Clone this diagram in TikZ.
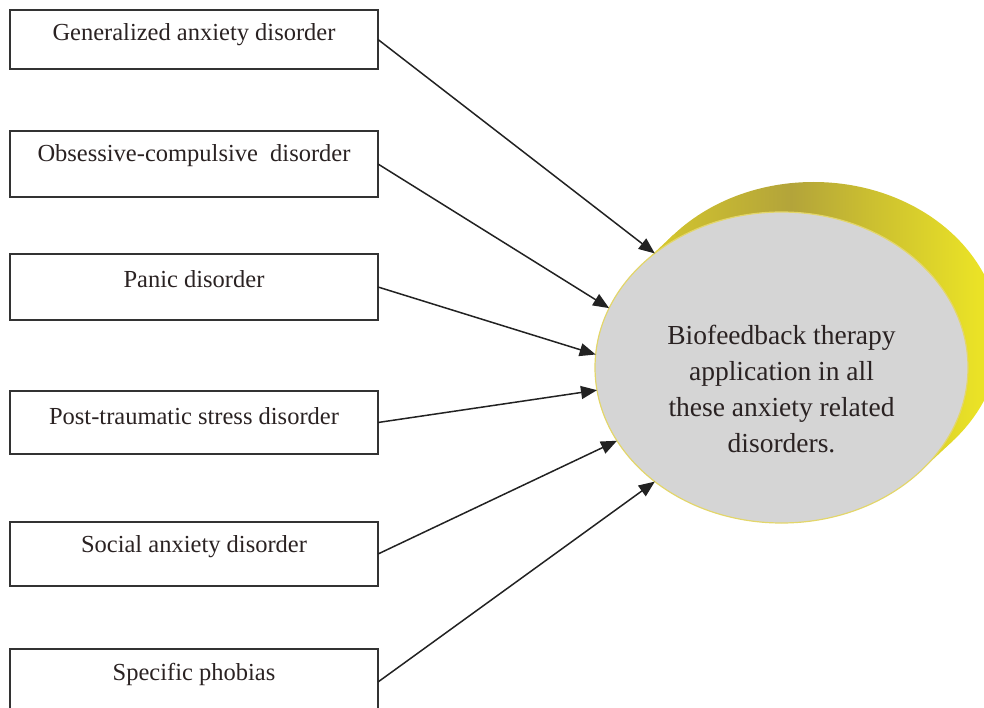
\documentclass[tikz,border=0pt]{standalone}
\usepackage{fontspec}
\setmainfont{Liberation Serif}
\usetikzlibrary{arrows.meta,shapes.geometric}
\definecolor{ellgray}{HTML}{D5D5D5}
\definecolor{ellrim}{HTML}{E3D66A}
\definecolor{boxline}{HTML}{333333}
\definecolor{arrline}{HTML}{222222}
\definecolor{txt}{HTML}{2A2222}
\definecolor{ylA}{HTML}{D8CA2C}
\definecolor{ylB}{HTML}{B3A43A}
\definecolor{ylD}{HTML}{CCC030}
\definecolor{ylC}{HTML}{EAE226}
\pgfdeclarehorizontalshading{sideshading}{100bp}{color(0bp)=(ylA); color(26.4bp)=(ylA); color(47bp)=(ylB); color(58bp)=(ylD); color(72bp)=(ylC); color(100bp)=(ylC)}
\begin{document}
\begin{tikzpicture}[x=1pt,y=-1pt,
  box/.style={draw=boxline, line width=1.4pt, minimum width=368pt, inner sep=0pt, outer sep=0pt, anchor=north west},
  boxtext/.style={font=\fontsize{24.5}{28}\selectfont, text=txt, anchor=center, yshift=-25pt},
  arr/.style={draw=arrline, line width=1.5pt, -{Triangle[length=16pt,width=13pt]}},
  sideshade/.style={path picture={\shade[shading=sideshading] (640,170) rectangle (1000,530);}}
]
\useasboundingbox (0,0) rectangle (984,708);
\clip (0,0) rectangle (984,708);

% 3D side of the oval
\path[sideshade] (813.5,337.5) ellipse [x radius=186.5, y radius=155.5];
\path[sideshade] (642,264.3) -- (674,234.3) -- (953,440.7) -- (921,470.7) -- cycle;

% front face
\node[ellipse, draw=ellrim, line width=1.2pt, fill=ellgray, minimum width=373pt, minimum height=311pt, inner sep=0pt, outer sep=0pt] (bio) at (781.5,367.5) {};
\node[font=\fontsize{27.5}{36}\selectfont, align=center, text=txt] (biotext) at (781.5,389) {Biofeedback therapy\\application in all\\these anxiety related\\disorders.};

% boxes
\node[box, minimum height=59pt, label={[boxtext]north:Generalized anxiety disorder}] (g1) at (10,10) {};
\node[box, minimum height=66pt, label={[boxtext]north:Obsessive-compulsive\ \ disorder}] (g2) at (10,131) {};
\node[box, minimum height=66pt, label={[boxtext]north:Panic disorder}] (g3) at (10,254) {};
\node[box, minimum height=63pt, label={[boxtext]north:Post-traumatic stress disorder}] (g4) at (10,391) {};
\node[box, minimum height=64pt, label={[boxtext]north:Social anxiety disorder}] (g5) at (10,522) {};
\node[box, minimum height=66pt, label={[boxtext]north:Specific phobias}] (g6) at (10,649) {};

% connectors
\draw[arr] (g1.east) -- (bio.138.7);
\draw[arr] (g2.east) -- (bio.161.5);
\draw[arr] (g3.east) -- (bio.176.8);
\draw[arr] (g4.east) -- (bio.187.9);
\draw[arr] (g5.east) -- (bio.204.9);
\draw[arr] (g6.east) -- (bio.222.5);
\end{tikzpicture}
\end{document}
